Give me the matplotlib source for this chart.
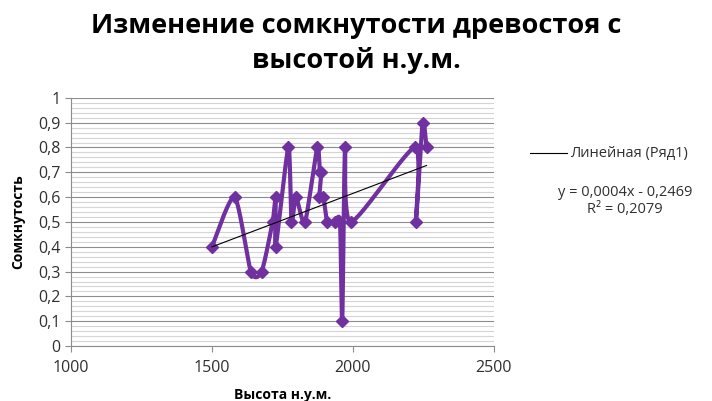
import numpy as np
import matplotlib.pyplot as plt
from matplotlib.ticker import MultipleLocator, FuncFormatter

plt.rcParams['font.family'] = ['Open Sans', 'DejaVu Sans']

# altitude above sea level (m) and canopy closure, in recorded order
altitude = [1500, 1580, 1638, 1676, 1715, 1726, 1726, 1771, 1782, 1798, 1830,
            1873, 1883, 1888, 1881, 1895, 1909, 1936, 1954, 1962, 1972, 1992,
            2220, 2223, 2247, 2261]
closure = [0.4, 0.6, 0.3, 0.3, 0.5, 0.6, 0.4, 0.8, 0.5, 0.6, 0.5,
           0.8, 0.7, 0.7, 0.6, 0.6, 0.5, 0.5, 0.5, 0.1, 0.8, 0.5,
           0.8, 0.5, 0.9, 0.8]

# linear trend
slope = 0.000431
intercept = -0.2469
r_squared = 0.2079

purple = '#7030A0'


def smooth_path(xs, ys, k=0.12, steps=30):
    """Bezier curve through the points, like a smoothed spreadsheet line."""
    p = np.column_stack([xs, ys]).astype(float)
    p = np.vstack([p[0], p, p[-1]])
    out = []
    t = np.linspace(0, 1, steps)[:, None]
    for i in range(1, len(p) - 2):
        p0, p1, p2, p3 = p[i - 1], p[i], p[i + 1], p[i + 2]
        c1 = p1 + (p2 - p0) * k
        c2 = p2 - (p3 - p1) * k
        seg = ((1 - t) ** 3) * p1 + 3 * ((1 - t) ** 2) * t * c1 \
            + 3 * (1 - t) * t ** 2 * c2 + t ** 3 * p2
        out.append(seg)
    seg = np.vstack(out)
    return seg[:, 0], seg[:, 1]


def comma(v, pos):
    s = f'{v:.1f}'.rstrip('0').rstrip('.')
    return s.replace('.', ',')


fig = plt.figure(figsize=(7.12, 4.01), dpi=100)
ax = fig.add_axes([0.0997, 0.137, 0.594, 0.619])

sx, sy = smooth_path(altitude, closure)
ax.plot(sx, sy, color=purple, linewidth=3, solid_capstyle='round',
        solid_joinstyle='round', zorder=3)
ax.plot(altitude, closure, linestyle='none', marker='D', markersize=6.5,
        color=purple, zorder=4)

tx = np.array([min(altitude), max(altitude)])
ax.plot(tx, slope * tx + intercept, color='black', linewidth=0.8, zorder=5)

ax.set_xlim(1000, 2500)
ax.set_ylim(0, 1)
ax.xaxis.set_major_locator(MultipleLocator(500))
ax.yaxis.set_major_locator(MultipleLocator(0.1))
ax.yaxis.set_minor_locator(MultipleLocator(0.02))
ax.yaxis.set_major_formatter(FuncFormatter(comma))

ax.grid(axis='y', which='major', color='#8c8c8c', linewidth=0.8)
ax.grid(axis='y', which='minor', color='#d4d4d4', linewidth=0.8)
ax.set_axisbelow(True)
for side in ['top', 'right']:
    ax.spines[side].set_visible(False)
for side in ['left', 'bottom']:
    ax.spines[side].set_color('#8c8c8c')
    ax.spines[side].set_linewidth(0.8)
ax.tick_params(axis='both', which='major', color='#8c8c8c', length=4,
               labelsize=11.5, labelcolor='#303030')
ax.tick_params(axis='x', which='major', pad=6)
ax.tick_params(axis='y', which='minor', length=0)

ax.set_xlabel('Высота н.у.м.', fontsize=10, fontweight='bold', labelpad=9)
ax.set_ylabel('Сомкнутость', fontsize=10, fontweight='bold', labelpad=9)

fig.text(0.5, 0.968, 'Изменение сомкнутости древостоя с\nвысотой н.у.м.',
         ha='center', va='top', fontsize=19.5, fontweight='bold',
         linespacing=1.4)

# trendline legend and equation
fig.add_artist(plt.Line2D([0.745, 0.797], [0.618, 0.618], color='black',
                          linewidth=0.8))
fig.text(0.801, 0.618, 'Линейная (Ряд1)', ha='left', va='center',
         fontsize=10.5, color='#303030')
eq = f'y = {slope:.4f}x - {abs(intercept):.4f}'.replace('.', ',')
r2 = f'R² = {r_squared:.4f}'.replace('.', ',')
fig.text(0.878, 0.498, eq + '\n' + r2, ha='center', va='center',
         fontsize=10.5, color='#303030', linespacing=1.2)

fig.savefig('out.png', dpi=100)
